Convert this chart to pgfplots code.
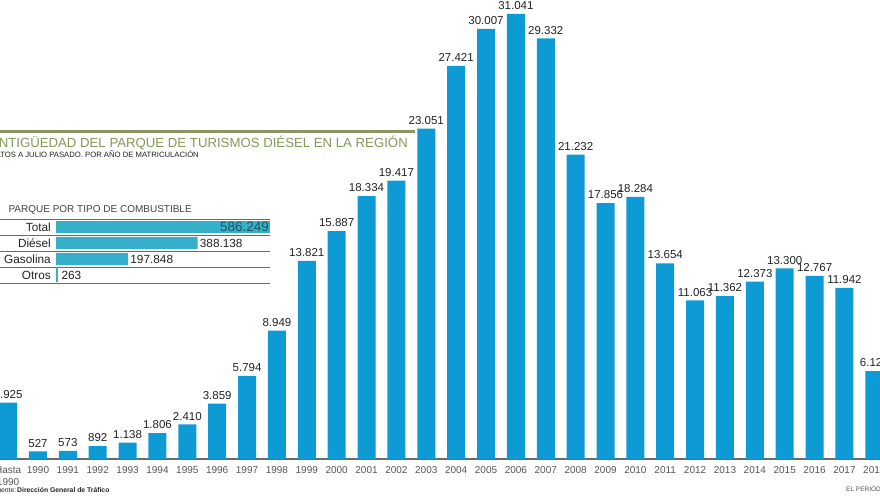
\documentclass[border=0pt]{standalone}
\usepackage{pgfplots}
\pgfplotsset{compat=1.18}
\usepackage{fontspec}
\setmainfont{Liberation Sans}

\definecolor{barblue}{HTML}{0E9BD5}
\definecolor{insetblue}{HTML}{38AFC8}
\definecolor{tealtext}{HTML}{1C5560}
\definecolor{olivetitle}{HTML}{869858}
\definecolor{oliveline}{HTML}{8C9663}
\definecolor{ticktext}{HTML}{555555}
\definecolor{valtext}{HTML}{222222}
\definecolor{rulegray}{HTML}{6A6A6A}

\pgfplotsset{
  /pgf/number format/fixed,
  /pgf/number format/precision=0,
  /pgf/number format/1000 sep={.},
  /pgf/number format/assume math mode=true,
}

\pgfplotstableread{
i val
0 3925
1 527
2 573
3 892
4 1138
5 1806
6 2410
7 3859
8 5794
9 8949
10 13821
11 15887
12 18334
13 19417
14 23051
15 27421
16 30007
17 31041
18 29332
19 21232
20 17856
21 18284
22 13654
23 11063
24 11362
25 12373
26 13300
27 12767
28 11942
29 6125
}\antiguedad

\newcommand{\fs}[1]{\fontsize{#1}{#1}\selectfont}

\begin{document}
\begin{tikzpicture}
\path[use as bounding box] (0pt,0pt) rectangle (880pt,495pt);

% main chart: one bar per year of registration
\begin{axis}[
  at={(0pt,36pt)}, anchor=south west,
  scale only axis, width=880pt, height=459pt,
  xmin=-0.271, xmax=29.19, ymin=0, ymax=32017,
  enlargelimits=false,
  axis x line=bottom, axis y line=none,
  x axis line style={-, draw=rulegray, line width=1.8pt},
  ybar, bar width=18pt, bar shift=0pt,
  xtick={0,...,29},
  xticklabels={{Hasta\\1990},1990,1991,1992,1993,1994,1995,1996,1997,1998,1999,2000,2001,2002,2003,2004,2005,2006,2007,2008,2009,2010,2011,2012,2013,2014,2015,2016,2017,2018},
  major tick length=0pt,
  xticklabel style={font=\fontsize{10}{12}\selectfont, text=ticktext, align=center, anchor=north, inner sep=0pt, yshift=-7pt},
  ytick=\empty,
  nodes near coords,
  every node near coord/.append style={font=\fs{11.5}, text=valtext, inner sep=0pt, yshift=4pt},
]
\addplot[fill=barblue, draw=none] table[x=i, y=val] {\antiguedad};
\end{axis}

% table rules of the inset
\foreach \yy in {219,235,251,267,283}
  \draw[rulegray, line width=0.9pt] (0pt,495pt-\yy pt) -- (270pt,495pt-\yy pt);

% inset: fleet by fuel type
\begin{axis}[
  at={(56pt,212pt)}, anchor=south west,
  scale only axis, width=214pt, height=64pt,
  xmin=0, xmax=586249, ymin=-0.5, ymax=3.5,
  enlargelimits=false,
  axis line style={draw=none},
  xtick=\empty,
  ytick={0,1,2,3},
  yticklabels={Otros,Gasolina,Diésel,Total},
  major tick length=0pt,
  yticklabel style={font=\fs{11.8}, text=valtext, anchor=east, inner sep=0pt, xshift=-5pt},
  xbar, bar width=12pt, bar shift=0pt,
  point meta=x,
]
\addplot[fill=insetblue, draw=none, nodes near coords,
  every node near coord/.append style={anchor=east, font=\fs{13.5}, text=tealtext, inner sep=0pt, xshift=-1pt}]
  coordinates {(586249,3)};
\addplot[fill=insetblue, draw=none, nodes near coords,
  every node near coord/.append style={anchor=west, font=\fs{11.8}, text=valtext, inner sep=0pt, xshift=2pt}]
  coordinates {(388138,2) (197848,1)};
\addplot[fill=insetblue, draw=insetblue, line width=3pt, nodes near coords,
  every node near coord/.append style={anchor=west, font=\fs{11.8}, text=valtext, inner sep=0pt, xshift=4pt}]
  coordinates {(263,0)};
\end{axis}

\node[anchor=base west, font=\fs{10}, text=valtext!85] at (5pt,282.5pt) {PARQUE POR TIPO DE COMBUSTIBLE};

% title block
\fill[oliveline] (0pt,362pt) rectangle (415pt,365pt);
\node[anchor=base east, font=\fs{13.2}, text=olivetitle, inner sep=0pt] at (408pt,347pt) {ANTIGÜEDAD DEL PARQUE DE TURISMOS DIÉSEL EN LA REGIÓN};
\node[anchor=base east, font=\fs{7.7}, text=valtext, inner sep=0pt] at (199pt,337.5pt) {DATOS A JULIO PASADO. POR AÑO DE MATRICULACIÓN};

% footer
\node[anchor=base east, font=\fs{6.8}, text=valtext, inner sep=0pt] at (16.5pt,3pt) {Fuente:};
\node[anchor=base west, font=\fs{6.8}\bfseries, text=valtext, inner sep=0pt] at (17pt,3pt) {Dirección General de Tráfico};
\node[anchor=base west, font=\fs{6.5}, text=ticktext, inner sep=0pt] at (846pt,4pt) {EL PERIÓDICO};
\end{tikzpicture}
\end{document}
